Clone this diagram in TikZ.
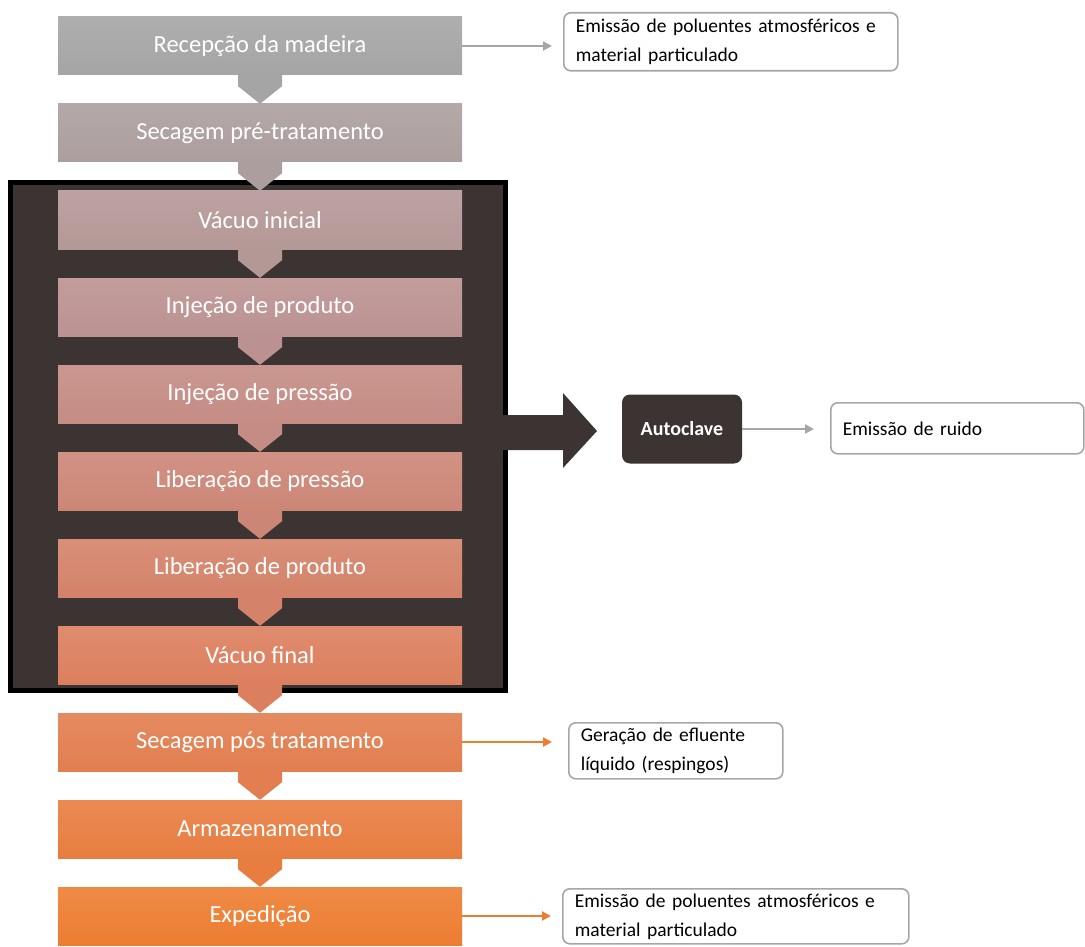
\documentclass[tikz,border=0pt]{standalone}
\usepackage{fontspec}
\setmainfont{Carlito}
\usetikzlibrary{calc,arrows.meta}

\definecolor{clavedark}{HTML}{3B3432}
\definecolor{linegray}{HTML}{A6A6A6}
\definecolor{lineorange}{HTML}{ED7D31}
% stage colours, grey at the top to orange at the bottom
\definecolor{stage0}{HTML}{A5A5A5}
\definecolor{stage1}{HTML}{AC9E9E}
\definecolor{stage2}{HTML}{B49896}
\definecolor{stage3}{HTML}{BB9291}
\definecolor{stage4}{HTML}{C48C84}
\definecolor{stage5}{HTML}{CC8676}
\definecolor{stage6}{HTML}{D48269}
\definecolor{stage7}{HTML}{DC7F5E}
\definecolor{stage8}{HTML}{E27E4F}
\definecolor{stage9}{HTML}{E87D40}
\definecolor{stage10}{HTML}{ED7D31}

\tikzset{
  stage/.style={minimum width=404pt, minimum height=58pt, inner sep=0pt,
    text=white, font=\fontsize{24.5}{28}\selectfont,
    top color=#1!90!white, bottom color=#1},
  effect/.style={draw=linegray, line width=1.6pt, rounded corners=7pt,
    fill=white, anchor=north west, align=left, inner xsep=12pt,
    inner ysep=0pt, font=\fontsize{19.5}{29}\selectfont},
  outflow/.style={-{Triangle[length=9pt,width=9pt]}, line width=2pt,
    shorten >=11pt},
}

\begin{document}
\begin{tikzpicture}[x=1pt,y=-1pt]
    \useasboundingbox (0,0) rectangle (1085,947);

    % the autoclave frame round the inner stages
    \node[fill=clavedark, draw=black, line width=5pt, minimum width=495pt,
      minimum height=507pt] (frame) at (257.5,436.5) {};

    % process stages
    \foreach \label [count=\i from 0] in {Recepção da madeira,
        Secagem pré-tratamento, Vácuo inicial, Injeção de produto,
        Injeção de pressão, Liberação de pressão, Liberação de produto,
        Vácuo final, Secagem pós tratamento, Armazenamento, Expedição}
      \node[stage=stage\i] (s\i) at (260,{46+87*\i}) {\label};

    % block arrows between the stages
    \foreach \i [evaluate=\i as \j using int(\i+1)] in {0,...,9}
      \fill[stage\i] ($(s\i.south)+(-22,0)$) -- ($(s\i.south)+(22,0)$)
        -- ($(s\i.south)+(22,11)$) -- (s\j.north)
        -- ($(s\i.south)+(-22,11)$) -- cycle;

    % big arrow out of the frame
    \fill[clavedark] (503,415) -- (563,415) -- (563,393) -- (597,431)
      -- (563,468) -- (563,450) -- (503,450) -- cycle;
    \node[fill=clavedark, rounded corners=8pt, minimum width=120pt,
      minimum height=69pt, text=white, font=\bfseries\fontsize{20}{24}\selectfont]
      (clave) at (682,429) {Autoclave};

    % environmental effects
    \node[effect, minimum width=334pt, minimum height=58pt, text width=310pt]
      (n1) at (563,12) {Emissão de poluentes atmosféricos e\\material particulado};
    \node[effect, minimum width=253pt, minimum height=51pt, text width=229pt]
      (n2) at (830,402) {Emissão de ruido};
    \node[effect, minimum width=214pt, minimum height=56pt, text width=190pt]
      (n3) at (568,722) {Geração de efluente\\líquido (respingos)};
    \node[effect, minimum width=346pt, minimum height=55pt, text width=322pt]
      (n4) at (562,888) {Emissão de poluentes atmosféricos e\\material particulado};

    \draw[outflow, linegray] (s0.east) -- (s0.east -| n1.west);
    \draw[outflow, linegray, shorten >=16pt] (clave.east) -- (clave.east -| n2.west);
    \draw[outflow, lineorange, shorten >=16pt] (s8.east) -- (s8.east -| n3.west);
    \draw[outflow, lineorange] (s10.east) -- (s10.east -| n4.west);
\end{tikzpicture}
\end{document}
